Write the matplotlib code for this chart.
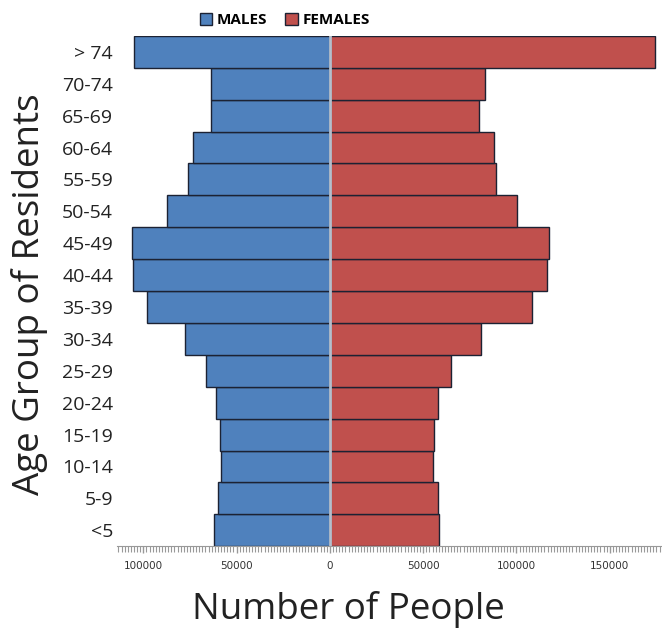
#!/usr/bin/env python3
"""Population pyramid of residents by age group, males vs females."""

import matplotlib.pyplot as plt
from matplotlib.patches import Patch
from matplotlib.ticker import FuncFormatter, MultipleLocator

age_groups = ["<5", "5-9", "10-14", "15-19", "20-24", "25-29", "30-34", "35-39",
              "40-44", "45-49", "50-54", "55-59", "60-64", "65-69", "70-74", "> 74"]
males = [61900, 60100, 58200, 59000, 61200, 66500, 77700, 98100,
         105400, 105900, 87200, 76000, 73100, 63800, 63800, 104900]
females = [58300, 57800, 55300, 55600, 57800, 65000, 81200, 108200,
           116500, 117500, 100400, 89000, 87700, 80100, 83100, 174400]

MALE_COLOR = "#4F81BD"
FEMALE_COLOR = "#C0504D"
EDGE = "#1c2233"
FONT = ["Open Sans", "DejaVu Sans"]

fig = plt.figure(figsize=(6.62, 6.30), dpi=100)
ax = fig.add_axes([0.177, 0.133, 0.823, 0.81])

y = range(len(age_groups))
ax.barh(y, [-m for m in males], height=1.0, color=MALE_COLOR,
        edgecolor=EDGE, linewidth=1.0)
ax.barh(y, females, height=1.0, color=FEMALE_COLOR,
        edgecolor=EDGE, linewidth=1.0)
ax.axvline(0, color="#b4bfcc", linewidth=2, zorder=3)

ax.set_xlim(-114000, 178000)
ax.set_ylim(-0.5, len(age_groups) - 0.5)
ax.set_yticks(list(y))
ax.set_yticklabels(age_groups, family=FONT, fontsize=14, color="#222222")
ax.tick_params(axis="y", length=0, pad=3)

# dense minor ticks along the count axis, labels show absolute counts
ax.xaxis.set_major_locator(MultipleLocator(50000))
ax.xaxis.set_minor_locator(MultipleLocator(50000 / 30))
ax.xaxis.set_major_formatter(FuncFormatter(lambda v, _: f"{abs(v):.0f}"))
ax.tick_params(axis="x", which="major", length=5, width=1, color="#999999",
               labelsize=7.5, pad=6, labelcolor="#333333")
ax.tick_params(axis="x", which="minor", length=4, width=0.8, color="#999999")

for side in ("left", "right", "top"):
    ax.spines[side].set_visible(False)
ax.spines["bottom"].set_color("#999999")

fig.text(0.045, 0.533, "Age Group of Residents", rotation=90, ha="center",
         va="center", family=FONT, fontsize=26.5, color="#222222")
fig.text(0.527, 0.032, "Number of People", ha="center", va="center",
         family=FONT, fontsize=26.5, color="#222222")

handles = [Patch(facecolor=MALE_COLOR, edgecolor=EDGE, label="MALES"),
           Patch(facecolor=FEMALE_COLOR, edgecolor=EDGE, label="FEMALES")]
fig.legend(handles=handles, loc="center", bbox_to_anchor=(0.43, 0.968),
           ncol=2, frameon=False, handlelength=0.8, handleheight=0.8,
           handletextpad=0.3, columnspacing=1.2,
           prop={"family": FONT, "weight": "bold", "size": 11})

fig.savefig("out.png", dpi=100)
